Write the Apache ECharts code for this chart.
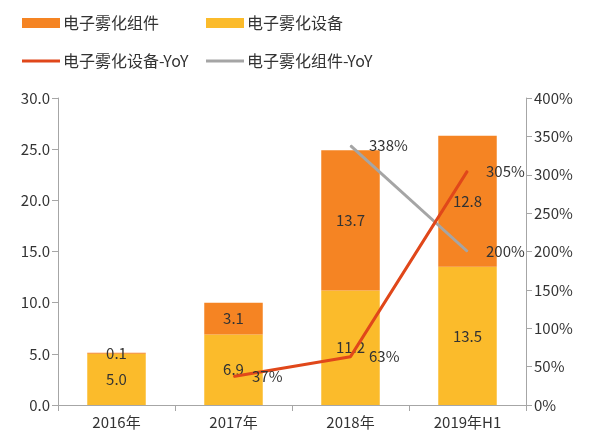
<!DOCTYPE html>
<html>
<head>
<meta charset="utf-8">
<script src="https://cdn.jsdelivr.net/npm/echarts@6/dist/echarts.min.js"></script>
<style>
  html, body { margin: 0; padding: 0; background: #fff; }
  #main { width: 589px; height: 441px; }
</style>
</head>
<body>
<div id="main"></div>
<script>
var categories = ["2016年", "2017年", "2018年", "2019年H1"];
var deviceValues = [5.0, 6.9, 11.2, 13.5];
var componentValues = [0.1, 3.1, 13.7, 12.8];
var deviceYoY = [null, 37, 63, 305];
var componentYoY = [null, null, 338, 200];

var font = "'Noto Sans CJK SC', 'Noto Sans', sans-serif";
var textColor = "#333333";
var axisColor = "#a6a6a6";

var chart = echarts.init(document.getElementById("main"));

var barLabel = {
  show: true,
  position: "inside",
  color: textColor,
  fontSize: 15,
  fontFamily: font,
  formatter: function (p) { return p.value.toFixed(1); }
};

var lineLabel = {
  show: true,
  position: "right",
  distance: 18,
  color: textColor,
  fontSize: 15,
  fontFamily: font,
  formatter: "{c}%"
};

// one legend per item so each can sit where it does in the picture
function legendItem(name, left, top, h) {
  return {
    left: left,
    top: top,
    icon: "rect",
    itemWidth: 38,
    itemHeight: h,
    textStyle: { color: textColor, fontSize: 16, fontFamily: font, padding: [0, 0, 0, -2] },
    data: [name]
  };
}

var option = {
  animation: false,
  textStyle: { fontFamily: font },
  legend: [
    legendItem("电子雾化组件", 17, 10, 10),
    legendItem("电子雾化设备", 201, 10, 10),
    legendItem("电子雾化设备-YoY", 17, 48, 3),
    legendItem("电子雾化组件-YoY", 201, 48, 3)
  ],
  grid: { left: 58, right: 63, top: 98, bottom: 36 },
  xAxis: {
    type: "category",
    data: categories,
    axisLine: { lineStyle: { color: axisColor } },
    axisTick: { show: true, alignWithLabel: false, length: 6, lineStyle: { color: axisColor } },
    axisLabel: { color: textColor, fontSize: 15, fontFamily: font, margin: 10 }
  },
  yAxis: [
    {
      type: "value",
      min: 0,
      max: 30,
      interval: 5,
      splitLine: { show: false },
      axisLine: { show: true, lineStyle: { color: axisColor } },
      axisTick: { show: true, length: 6, lineStyle: { color: axisColor } },
      axisLabel: {
        color: textColor, fontSize: 15, fontFamily: font, margin: 8,
        formatter: function (v) { return v.toFixed(1); }
      }
    },
    {
      type: "value",
      min: 0,
      max: 400,
      interval: 50,
      splitLine: { show: false },
      axisLine: { show: true, lineStyle: { color: axisColor } },
      axisTick: { show: true, length: 6, lineStyle: { color: axisColor } },
      axisLabel: { color: textColor, fontSize: 15, fontFamily: font, margin: 8, formatter: "{value}%" }
    }
  ],
  series: [
    {
      name: "电子雾化设备",
      type: "bar",
      stack: "total",
      barWidth: "50%",
      itemStyle: { color: "#fbbb2b" },
      label: barLabel,
      data: deviceValues
    },
    {
      name: "电子雾化组件",
      type: "bar",
      stack: "total",
      barWidth: "50%",
      itemStyle: { color: "#f58423" },
      label: barLabel,
      data: componentValues
    },
    {
      name: "电子雾化设备-YoY",
      type: "line",
      yAxisIndex: 1,
      symbol: "circle",
      symbolSize: 1,
      showSymbol: true,
      lineStyle: { color: "#e0471a", width: 3 },
      itemStyle: { color: "#e0471a" },
      label: lineLabel,
      z: 5,
      data: deviceYoY
    },
    {
      name: "电子雾化组件-YoY",
      type: "line",
      yAxisIndex: 1,
      symbol: "circle",
      symbolSize: 1,
      showSymbol: true,
      lineStyle: { color: "#a5a5a5", width: 3 },
      itemStyle: { color: "#a5a5a5" },
      label: lineLabel,
      z: 4,
      data: componentYoY
    }
  ]
};

chart.setOption(option);
</script>
</body>
</html>
